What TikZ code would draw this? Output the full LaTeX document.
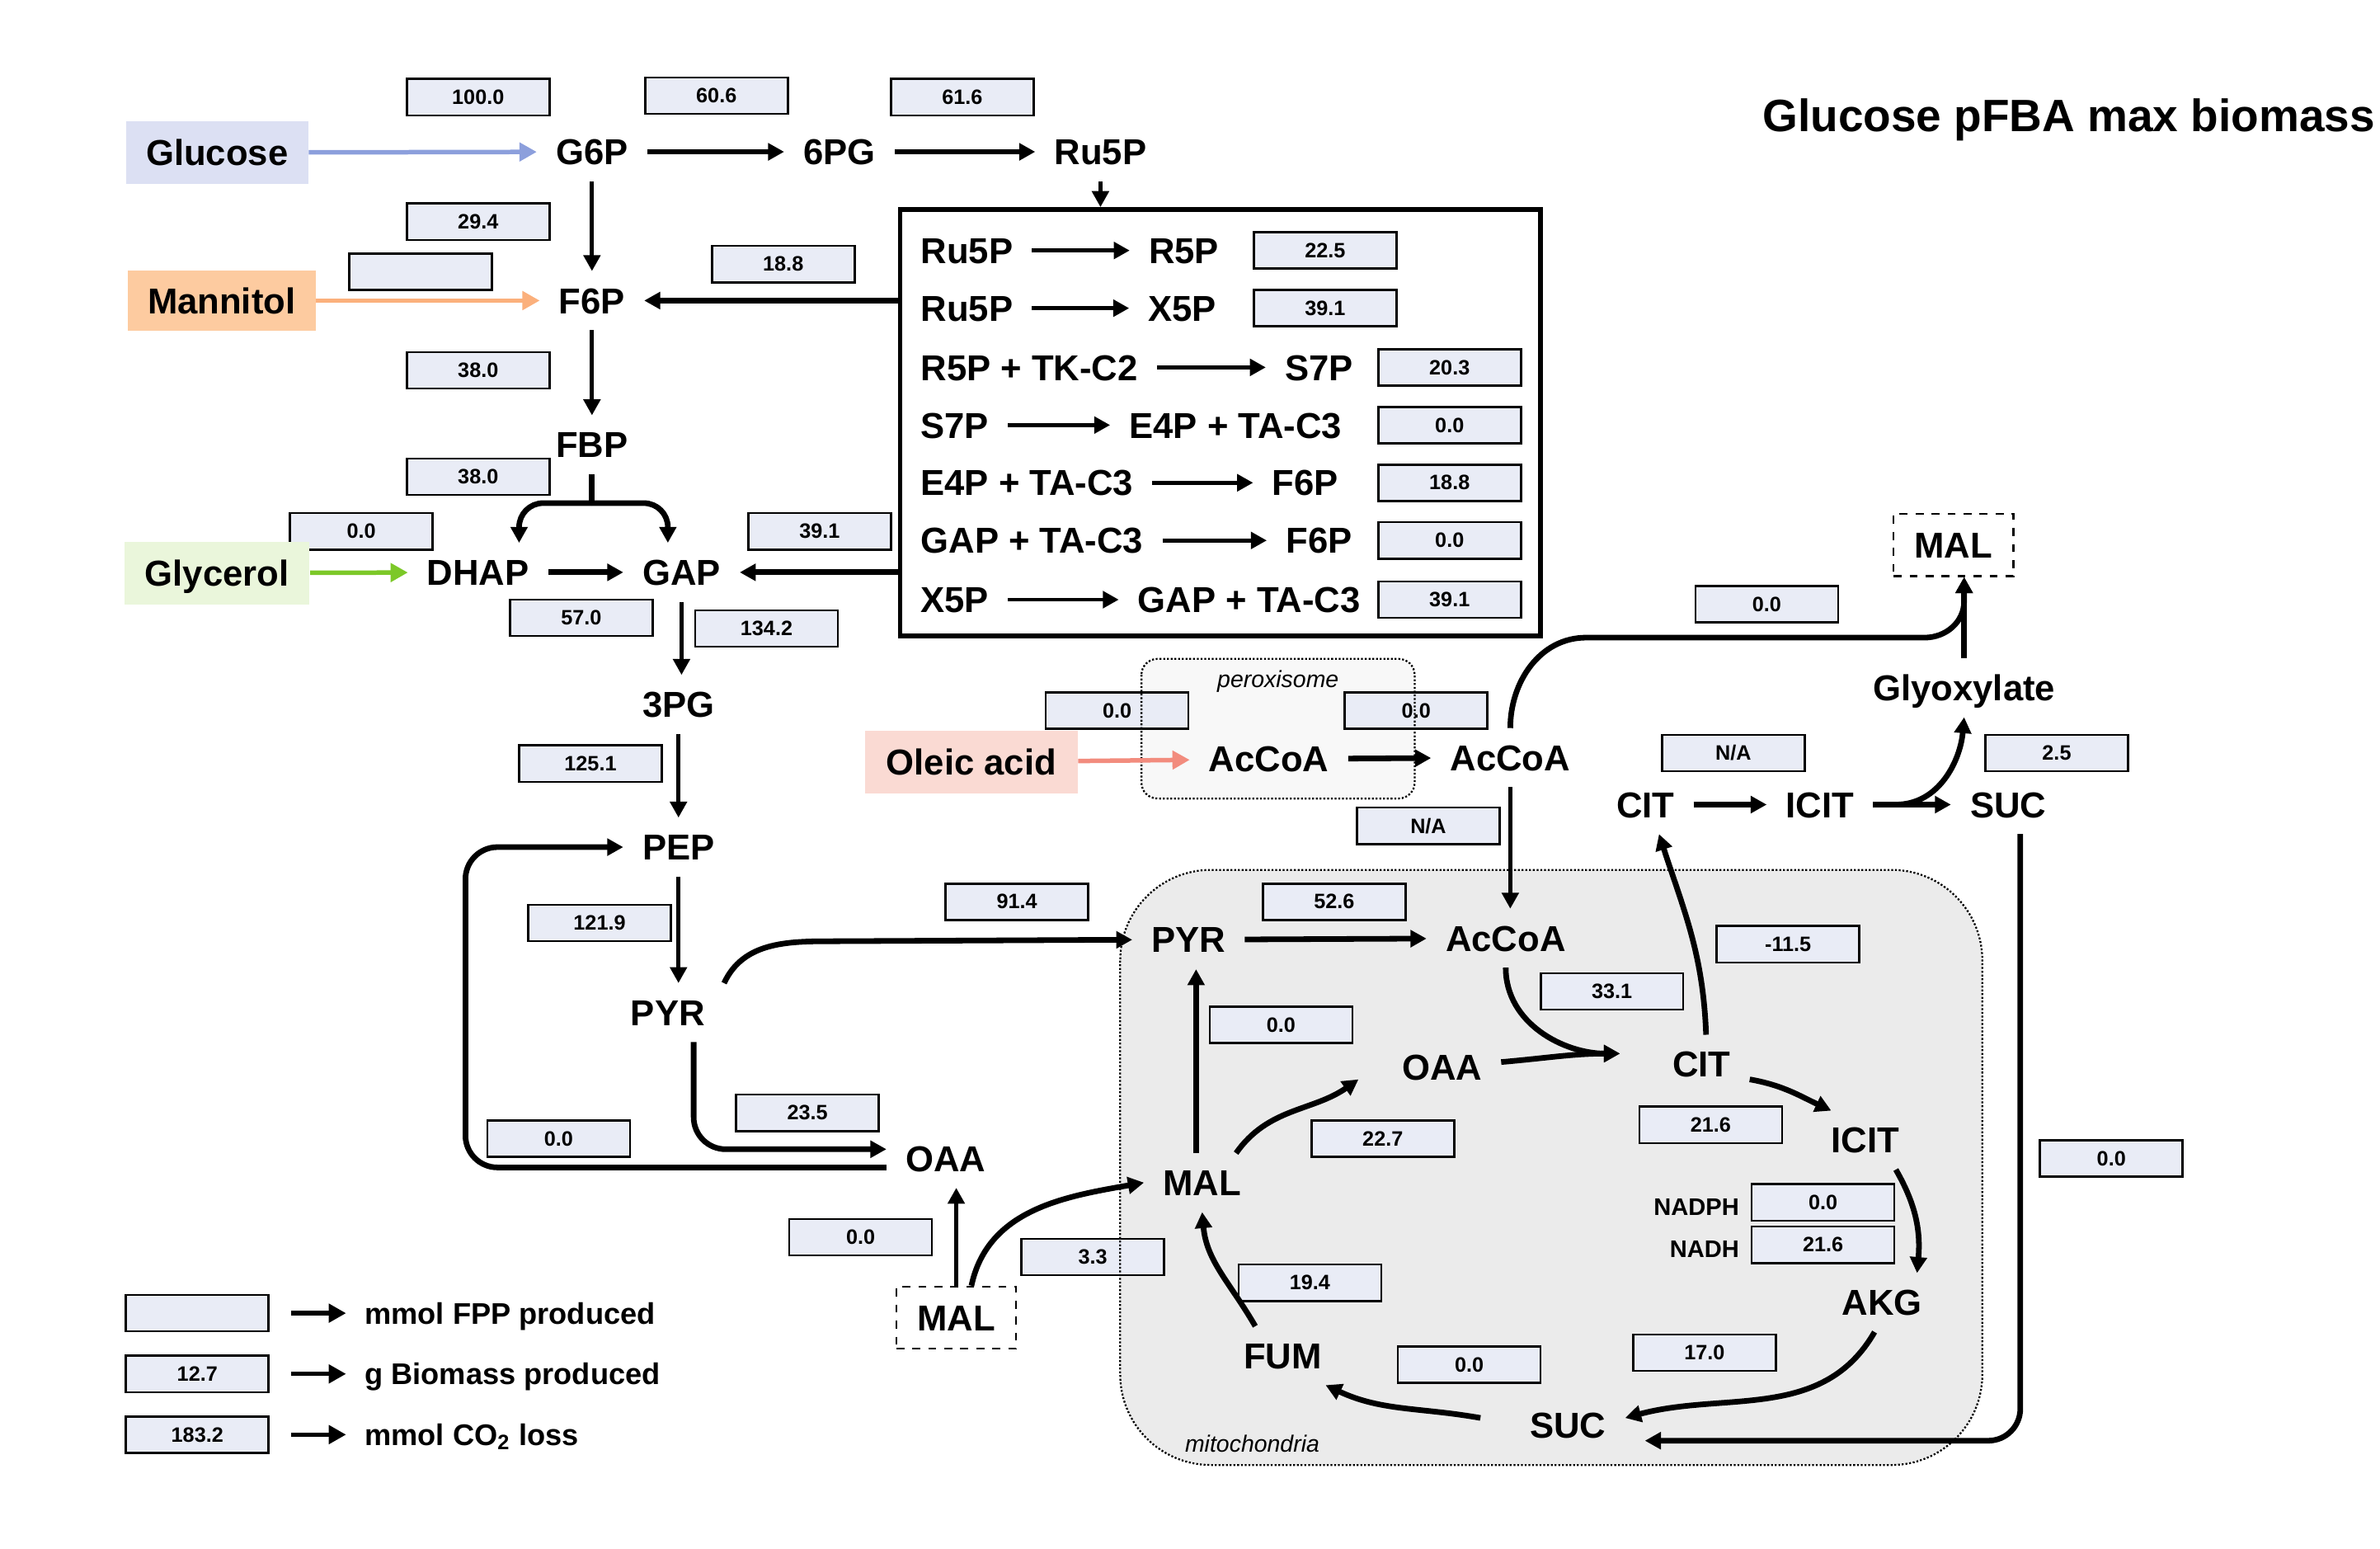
\documentclass[tikz,border=0pt]{standalone}
\usepackage{fontspec}
\setmainfont{Liberation Sans}
\usetikzlibrary{arrows.meta}

\definecolor{fluxfill}{HTML}{E9ECF6}
\definecolor{glcfill}{HTML}{DCE0F3}
\definecolor{glcarrow}{HTML}{8C9FDC}
\definecolor{mtlfill}{HTML}{FDCBA0}
\definecolor{mtlarrow}{HTML}{FBB07C}
\definecolor{glyfill}{HTML}{EAF6DB}
\definecolor{glyarrow}{HTML}{7CC828}
\definecolor{olefill}{HTML}{FADAD3}
\definecolor{olearrow}{HTML}{F28C7E}
\definecolor{mitofill}{HTML}{EBEBEB}
\definecolor{perfill}{HTML}{F8F8F8}

\newcommand{\metfont}{\bfseries\fontsize{13.5}{16}\selectfont}
\newcommand{\fluxfont}{\bfseries\fontsize{7.8}{9}\selectfont}
\newcommand{\legfont}{\bfseries\fontsize{11.2}{13}\selectfont}
\newcommand{\nadfont}{\bfseries\fontsize{9}{11}\selectfont}
\newcommand{\cofont}{\itshape\fontsize{8.8}{10}\selectfont}

\tikzset{
  met/.style={font=\metfont, inner xsep=7pt, inner ysep=6pt, text height=9.7pt, text depth=0pt},
  flux/.style={draw, line width=0.8pt, fill=fluxfill, font=\fluxfont, minimum width=1.88cm, minimum height=0.48cm, inner sep=0pt},
  src/.style={font=\metfont, inner sep=0pt, minimum height=0.82cm, text height=9.7pt, text depth=0pt},
  arr/.style={line width=1.5pt, -{Triangle[length=6pt,width=6.2pt]}},
  arrthick/.style={arr, line width=2.1pt},
  feed/.style={line width=1.7pt, -{Triangle[length=6.5pt,width=6.8pt]}},
  dashbox/.style={met, draw, dashed, line width=0.7pt, minimum width=1.58cm, minimum height=0.82cm, inner sep=0pt},
  compart/.style={draw, dash pattern=on 0.7pt off 0.7pt, line width=0.7pt}
}

\begin{document}
\begin{tikzpicture}[x=0.02cm, y=-0.02cm]
\useasboundingbox (0,0) rectangle (1568,1020);

% compartments
\fill[mitofill, rounded corners=34pt] (738,573) rectangle (1306,965);
\fill[perfill, rounded corners=6pt] (752,434) rectangle (932,526);

% pentose phosphate box
\node[draw, line width=1.8pt, minimum width=8.44cm, minimum height=5.62cm, inner sep=0pt] (ppp) at (804,278.5) {};

% flux values
\foreach \x/\y/\v [count=\k] in {315/64/100.0, 472/63/60.6, 634/64/61.6, 315/146/29.4, 277/179/{},
    516/174/18.8, 315/244/38.0, 315/314/38.0, 238/350/0.0, 540/350/39.1, 383/407/57.0,
    505/414/134.2, 389/503/125.1, 395/608/121.9, 368/750/0.0, 532/733/23.5, 670/594/91.4,
    736/468/0.0, 933/468/0.0, 941/544/{N/A}, 1164/398/0.0, 1142/496/{N/A}, 1355/496/2.5,
    1391/763/0.0, 879/594/52.6, 1062/653/33.1, 1178/622/-11.5, 844/675/0.0, 911/750/22.7,
    1127/741/21.6, 1201/792/0.0, 1201/820/21.6, 1123/891/17.0, 968/899/0.0, 863/845/19.4,
    567/815/0.0, 720/828/3.3}
  \node[flux] (flux\k) at (\x,\y) {\v};

% compartment borders
\draw[compart, rounded corners=34pt] (738,573) rectangle (1306,965);
\draw[compart, rounded corners=6pt] (752,434) rectangle (932,526);
\node[font=\cofont] (perlab) at (842,449) {peroxisome};
\node[font=\cofont] (mitolab) at (825,951) {mitochondria};

\node[font=\bfseries\fontsize{17}{20}\selectfont] (title) at (1363,79) {Glucose pFBA max biomass};

% upper glycolysis
\node[src, fill=glcfill, minimum width=2.4cm] (glucose) at (143,100.5) {Glucose};
\node[met] (g6p) at (390,100) {G6P};
\node[met] (pg6) at (553,100) {6PG};
\node[met] (ru5p) at (725,100) {Ru5P};
\draw[feed, glcarrow] (glucose) -- (g6p);
\draw[arrthick] (g6p) -- (pg6);
\draw[arrthick] (pg6) -- (ru5p);
\draw[arr] (ru5p) -- (ru5p |- ppp.north);

\foreach \y/\l/\r/\rx/\bx/\v [count=\k] in {165/Ru5P/R5P/780/873/22.5, 203/Ru5P/X5P/779/873/39.1,
    242/R5P + TK-C2/S7P/869/955/20.3, 280/S7P/E4P + TA-C3/814/955/0.0,
    318/E4P + TA-C3/F6P/860/955/18.8, 356/GAP + TA-C3/F6P/869/955/0.0,
    395/X5P/GAP + TA-C3/823/955/39.1}{
  \node[met, anchor=west] (pl\k) at (594,\y) {\l};
  \node[met] (pr\k) at (\rx,\y) {\r};
  \node[flux] (pv\k) at (\bx,\y) {\v};
  \draw[arr] (pl\k) -- (pr\k);
}

\node[met] (f6p) at (390,198) {F6P};
\node[src, fill=mtlfill, minimum width=2.48cm, minimum height=0.8cm] (mannitol) at (146,198) {Mannitol};
\draw[feed, mtlarrow] (mannitol) -- (f6p);
\draw[arr] (g6p) -- (f6p);
\draw[arrthick] (ppp.west |- f6p) -- (f6p);
\node[met] (fbp) at (390,293) {FBP};
\draw[arr] (f6p) -- (fbp);
\node[met] (dhap) at (315,377) {DHAP};
\node[met] (gap) at (449,377) {GAP};
\node[src, fill=glyfill, minimum width=2.44cm] (glycerol) at (143,377.5) {Glycerol};
\draw[feed, glyarrow] (glycerol) -- (dhap);
\draw[line width=2.1pt] (fbp.south) -- ++(0,19) coordinate (fbpsplit);
\draw[arrthick, rounded corners=9pt] (fbpsplit) -| ([xshift=0.54cm]dhap.north);
\draw[arrthick, rounded corners=9pt] (fbpsplit) -| ([xshift=-0.18cm]gap.north);
\draw[arrthick] (dhap) -- (gap);
\draw[arrthick] (ppp.west |- gap) -- (gap);

% lower glycolysis
\node[met] (pg3) at (447,464) {3PG};
\draw[arr] (gap) -- (gap |- pg3.north);
\node[met] (pep) at (447,558) {PEP};
\draw[arr] (pg3) -- (pep);
\node[met] (pyr) at (440,667) {PYR};
\draw[arr] (pep) -- (pep |- pyr.north);
\node[met] (oaa) at (623,763) {OAA};
\draw[arrthick, rounded corners=12pt] ([yshift=-0.12cm]oaa.west) -| ([xshift=-2.08cm]pep.west) -- (pep.west);
\draw[arrthick, rounded corners=12pt] ([xshift=0.34cm]pyr.south) |- ([yshift=0.12cm]oaa.west);
\node[met] (mpyr) at (783,619) {PYR};
\draw[arrthick] (pyr.north east) to[out=65,in=180] (548,620) -- (mpyr.west);

% peroxisome and glyoxylate shunt
\node[src, fill=olefill, minimum width=2.8cm] (oleic) at (640,502) {Oleic acid};
\node[met] (pacoa) at (836,500) {AcCoA};
\node[met] (cacoa) at (995,499) {AcCoA};
\draw[feed, olearrow] (oleic) -- (pacoa);
\draw[arrthick] (pacoa) -- (cacoa);
\node[met] (macoa) at (992,618) {AcCoA};
\draw[arr] (cacoa) -- (cacoa |- macoa.north);
\node[dashbox] (gmal) at (1287,359) {MAL};
\node[met] (glyox) at (1294,453) {Glyoxylate};
\draw[arrthick] (glyox) -- (glyox |- gmal.south);
\draw[arrthick] (cacoa.north) to[out=90,in=180] (1045,420) -- (1268,420) to[out=0,in=-90] (1294,396) -- (glyox |- gmal.south);
\node[met] (ccit) at (1084,530) {CIT};
\node[met] (cicit) at (1199,530) {ICIT};
\node[met] (csuc) at (1323,530) {SUC};
\draw[arrthick] (ccit) -- (cicit);
\draw[arrthick] (cicit) -- (csuc);
\draw[arrthick] ([xshift=0.3cm]cicit.east) to[out=0,in=-95] (glyox.south);

% mitochondrial TCA cycle
\node[met] (moaa) at (950,703) {OAA};
\node[met] (mcit) at (1121,701) {CIT};
\node[met] (micit) at (1229,751) {ICIT};
\node[met] (makg) at (1240,858) {AKG};
\node[met] (msuc) at (1033,939) {SUC};
\node[met] (mfum) at (845,893) {FUM};
\node[met] (mmal) at (792,779) {MAL};
\node[dashbox] (cmal) at (630,868) {MAL};
\draw[arrthick] (mpyr) -- (macoa);
\coordinate (citin) at ([xshift=-0.44cm,yshift=0.14cm]mcit.west);
\draw[arrthick] (macoa.south) to[out=-90,in=180] (citin);
\draw[arrthick] (moaa) to[out=5,in=180] (citin);
\draw[arrthick] ([xshift=0.06cm]mcit.north) to[out=92,in=-72] ([xshift=0.18cm]ccit.south);
\draw[arrthick] ([yshift=-0.2cm]mcit.east) to[out=-10,in=155] ([xshift=0.25cm]micit.north west);
\draw[arrthick] ([xshift=0.4cm]micit.south) to[out=-60,in=85] ([xshift=0.46cm]makg.north);
\draw[arrthick] ([xshift=-0.1cm]makg.south) to[out=-120,in=15] ([yshift=0.1cm]msuc.east);
\draw[arrthick] ([xshift=-0.4cm,yshift=0.1cm]msuc.west) to[out=170,in=-25] ([xshift=-0.2cm]mfum.south east);
\draw[arrthick] ([xshift=-0.36cm]mfum.north) to[out=120,in=-85] (mmal.south);
\draw[arrthick] ([xshift=-0.08cm]mmal.north) -- ([xshift=-0.08cm]mmal.north |- mpyr.south);
\draw[arrthick] ([xshift=-0.32cm]mmal.north east) to[out=55,in=-145] ([xshift=-0.32cm,yshift=-0.16cm]moaa.west);
\draw[arr] (cmal) -- (cmal |- oaa.south);
\draw[arrthick] ([xshift=0.2cm]cmal.north) to[out=78,in=190] (mmal.west);
\draw[arrthick, rounded corners=12pt] ([xshift=0.16cm]csuc.south) |- ([yshift=-0.2cm,xshift=0.26cm]msuc.east);
\node[font=\nadfont, anchor=east] (nadph) at (1152,795) {NADPH};
\node[font=\nadfont, anchor=east] (nadh) at (1152,823) {NADH};

% legend
\foreach \y/\v/\t [count=\k] in {865/{}/mmol FPP produced, 905/12.7/g Biomass produced,
    945/183.2/{mmol CO\textsubscript{2} loss}}{
  \node[flux] (leg\k) at (130,\y) {\v};
  \node[font=\legfont, anchor=west, inner sep=0pt, text height=8pt, text depth=0pt] (legt\k) at (240,\y) {\t};
  \draw[feed, shorten <=0.28cm, shorten >=0.24cm] (leg\k) -- (legt\k);
}
\end{tikzpicture}
\end{document}
